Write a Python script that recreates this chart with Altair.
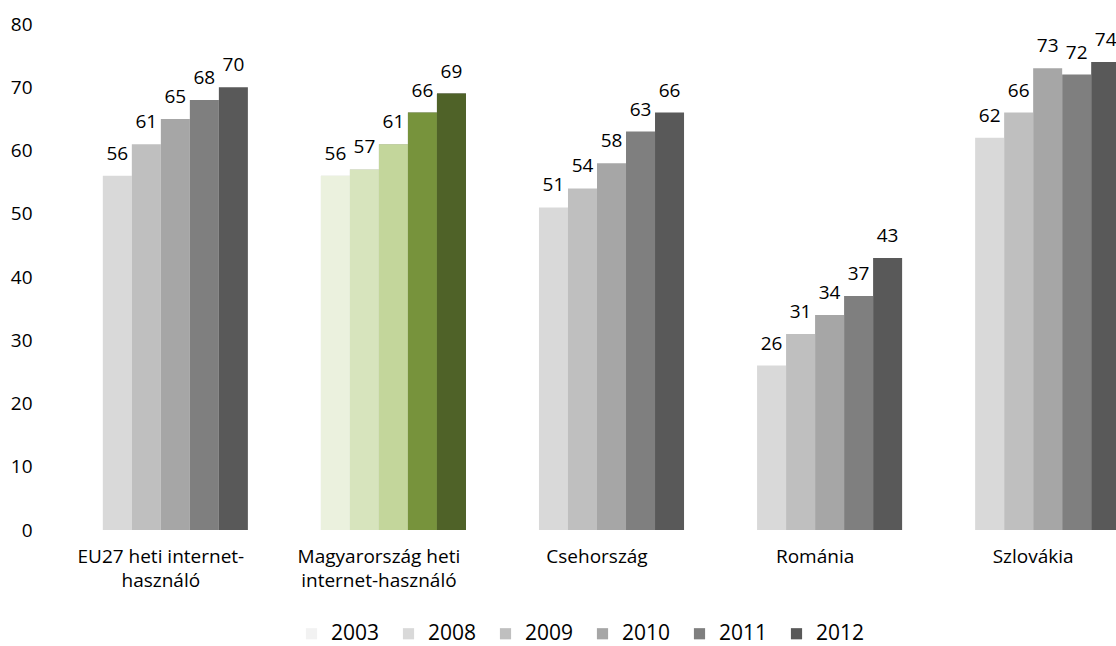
import altair as alt
import pandas as pd

categories = [
    "EU27 heti internet-használó",
    "Magyarország heti internet-használó",
    "Csehország",
    "Románia",
    "Szlovákia",
]
label_lines = {
    "EU27 heti internet-használó": ["EU27 heti internet-", "használó"],
    "Magyarország heti internet-használó": ["Magyarország heti", "internet-használó"],
}
years = ["2003", "2008", "2009", "2010", "2011", "2012"]
v2003 = [None, None, None, None, None]
v2008 = [56, 56, 51, 26, 62]
v2009 = [61, 57, 54, 31, 66]
v2010 = [65, 61, 58, 34, 73]
v2011 = [68, 66, 63, 37, 72]
v2012 = [70, 69, 66, 43, 74]
series = [v2003, v2008, v2009, v2010, v2011, v2012]
y_ticks = [0, 10, 20, 30, 40, 50, 60, 70, 80]

gray_colors = ["#f2f2f2", "#d9d9d9", "#bfbfbf", "#a6a6a6", "#7f7f7f", "#595959"]
green_years = ["2008", "2009", "2010", "2011", "2012"]
green_colors = ["#ebf1de", "#d7e4bd", "#c3d69b", "#77933c", "#4f6228"]

rows = []
for yr, vals in zip(years, series):
    for c, v in zip(categories, vals):
        if v is not None:
            rows.append({"cat": c, "year": yr, "value": v})
df = pd.DataFrame(rows)
hu = categories[1]
green_map = dict(zip(green_years, green_colors))
df["green"] = [green_map.get(y) if c == hu else None for c, y in zip(df["cat"], df["year"])]

expr = "datum.label"
for k, lines in reversed(list(label_lines.items())):
    arr = "[" + ", ".join("'" + s + "'" for s in lines) + "]"
    expr = f"datum.label == '{k}' ? {arr} : ({expr})"

FONT = "Open Sans"

x = alt.X(
    "cat:N",
    sort=categories,
    scale=alt.Scale(range=[0, 1090], paddingInner=0.2018, paddingOuter=0.1),
    axis=alt.Axis(
        title=None, labelAngle=0, domain=False, ticks=False, labelPadding=17,
        labelFontSize=19, labelLineHeight=24, labelExpr=expr, labelFont=FONT,
        labelColor="black", labelLimit=0,
    ),
)
xo = alt.XOffset("year:N", sort=years, scale=alt.Scale(domain=years, paddingInner=0, paddingOuter=0))
y = alt.Y(
    "value:Q",
    scale=alt.Scale(domain=[0, 80], nice=False),
    axis=alt.Axis(
        title=None, values=y_ticks, grid=False, domain=False, ticks=False,
        labelPadding=20, labelFontSize=19, labelFont=FONT, labelColor="black",
    ),
)

base = alt.Chart(df).encode(x=x, xOffset=xo, y=y)

bars = base.mark_bar().encode(
    color=alt.Color(
        "year:N",
        sort=years,
        scale=alt.Scale(domain=years, range=gray_colors),
        legend=alt.Legend(
            orient="none", legendX=249, legendY=599, direction="horizontal",
            title=None, symbolType="square", symbolSize=125, symbolStrokeWidth=0,
            labelFontSize=21, labelFont=FONT, labelColor="black", labelOffset=9,
            columnPadding=18, padding=0,
        ),
    )
)
green = base.transform_filter(alt.datum.cat == hu).mark_bar().encode(
    color=alt.Color("green:N", scale=None)
)
labels = base.mark_text(
    dy=-16, baseline="alphabetic", fontSize=19, font=FONT, color="black"
).encode(text="value:Q")

chart = (
    alt.layer(bars, green, labels)
    .resolve_scale(color="independent")
    .properties(
        width=1064,
        height=506,
        padding={"left": 52, "top": 24, "right": 0, "bottom": 116},
        autosize=alt.AutoSizeParams(type="none"),
        background="white",
    )
    .configure_view(stroke=None)
)

chart.save("out.html", embed_options={"renderer": "svg", "actions": False})
